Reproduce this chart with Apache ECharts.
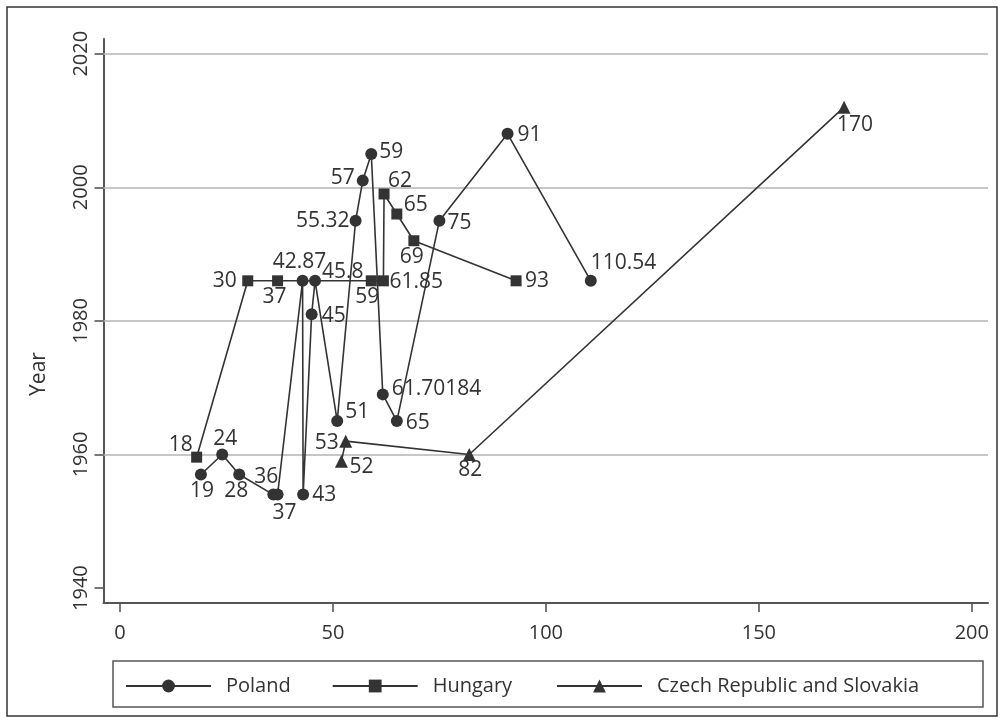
<!DOCTYPE html>
<html>
<head>
<meta charset="utf-8">
<script src="https://cdn.jsdelivr.net/npm/echarts@6/dist/echarts.min.js"></script>
<style>
html,body{margin:0;padding:0;background:#fff;}
#chart{width:1004px;height:723px;}
</style>
</head>
<body>
<div id="chart"></div>
<script>
// ---- data ----
const xTicks = [0, 50, 100, 150, 200];
const yTicks = [1940, 1960, 1980, 2000, 2020];
const gridYears = [1960, 1980, 2000, 2020];

const polandX    = [19, 24, 28, 36, 37, 42.87, 43, 45, 45.8, 51, 55.32, 57, 59, 61.70184, 65, 75, 91, 110.54];
const polandYear = [1957, 1960, 1957, 1954, 1954, 1986, 1954, 1981, 1986, 1965, 1995, 2001, 2005, 1969, 1965, 1995, 2008, 1986];

const hungaryX    = [18, 30, 37, 59, 61.85, 62, 65, 69, 93];
const hungaryYear = [1959.6, 1986, 1986, 1986, 1986, 1999, 1996, 1992, 1986];

const czechX    = [52, 53, 82, 170];
const czechYear = [1959, 1962, 1960, 2012];

// ---- label placement (style only): [align, dx, dy] from marker centre ----
const polandLbl = [
  ['center',1,16],['center',3,-15],['center',-3,16],['center',-7,-18],['center',7,18],
  ['center',-3,-19],['left',9,0],['left',10,2],['left',7,-9],['left',8,-9],
  ['right',-6,0],['right',-8,-3],['left',8,-2],['left',9,-5],['left',9,2],
  ['left',8,2],['left',10,1],['left',0,-18]
];
const hungaryLbl = [
  ['right',-4,-12],['right',-11,0],['center',-3,16],['center',-4,16],['left',6,1],
  ['left',4,-13],['left',7,-9],['center',-2,16],['left',9,0]
];
const czechLbl = [['left',8,6],['right',-7,2],['center',1,16],['left',-7,18]];

const TXT = '#333333';
const INK = '#333333';
const FONT = 'Open Sans';

function build(xs, ys, lbl) {
  return xs.map((x, i) => ({
    value: [x, ys[i]],
    label: { align: lbl[i][0], offset: [lbl[i][1], lbl[i][2]] }
  }));
}

function mkSeries(name, xs, ys, lbl, symbol, size, extra) {
  return Object.assign({
    name: name,
    type: 'line',
    data: build(xs, ys, lbl),
    symbol: symbol,
    symbolSize: size,
    showAllSymbol: true,
    lineStyle: { color: INK, width: 1.6 },
    itemStyle: { color: INK },
    label: {
      show: true,
      position: 'inside',
      verticalAlign: 'middle',
      fontFamily: FONT,
      fontSize: 21,
      color: TXT,
      formatter: p => String(p.value[0])
    },
    emphasis: { disabled: true },
    z: 3
  }, extra || {});
}

const chart = echarts.init(document.getElementById('chart'), null, { renderer: 'canvas' });

const option = {
  animation: false,
  backgroundColor: '#ffffff',
  grid: { left: 103.5, right: 16, top: 39, bottom: 120, containLabel: false, outerBoundsMode: 'none' },
  xAxis: {
    type: 'value',
    min: -3.87,
    max: 203.8,
    axisLine: { show: true, onZero: false, lineStyle: { color: '#555', width: 2 } },
    axisTick: { show: true, length: 9, lineStyle: { color: '#555', width: 1.6 }, customValues: xTicks },
    axisLabel: { fontFamily: FONT, fontSize: 20, color: TXT, margin: 20, customValues: xTicks, formatter: v => String(v) },
    splitLine: { show: false }
  },
  yAxis: {
    type: 'value',
    min: 1937.77,
    max: 2022.2,
    name: 'Year',
    nameLocation: 'middle',
    nameRotate: 90,
    nameGap: 54,
    nameTextStyle: { fontFamily: FONT, fontSize: 21, color: TXT, padding: [0, 106, 0, 0] },
    axisLine: { show: true, onZero: false, lineStyle: { color: '#555', width: 2 } },
    axisTick: { show: true, length: 9, lineStyle: { color: '#555', width: 1.6 }, customValues: yTicks },
    axisLabel: { fontFamily: FONT, fontSize: 20, color: TXT, rotate: 90, margin: 12, customValues: yTicks, formatter: v => String(v) },
    splitLine: { show: false }
  },
  legend: [
    { data: ['Poland'], left: 125, top: 676 },
    { data: ['Hungary'], left: 331.7, top: 676 },
    { data: ['Czech Republic and Slovakia'], left: 556, top: 676 }
  ].map(l => Object.assign(l, {
    orient: 'horizontal',
    padding: 0,
    itemWidth: 85,
    itemHeight: 16,
    selectedMode: false,
    textStyle: { fontFamily: FONT, fontSize: 20, color: TXT, padding: [0, 0, 0, 10] }
  })),
  series: [
    mkSeries('Poland', polandX, polandYear, polandLbl, 'circle', 12, {
      markLine: {
        silent: true,
        symbol: ['none', 'none'],
        z: 1,
        label: { show: false },
        lineStyle: { type: 'solid', color: '#b4b4b4', width: 1.6 },
        emphasis: { disabled: true },
        data: gridYears.map(y => ({ yAxis: y }))
      }
    }),
    mkSeries('Hungary', hungaryX, hungaryYear, hungaryLbl, 'rect', 11),
    mkSeries('Czech Republic and Slovakia', czechX, czechYear, czechLbl, 'triangle', 13)
  ],
  graphic: [
    { type: 'rect', shape: { x: 7, y: 7, width: 990, height: 709 }, style: { fill: 'none', stroke: '#333', lineWidth: 1.5 }, silent: true, z: 0 },
    { type: 'rect', shape: { x: 113, y: 661, width: 870, height: 46 }, style: { fill: 'none', stroke: '#555', lineWidth: 1.5 }, silent: true, z: 0 }
  ]
};

chart.setOption(option);
</script>
</body>
</html>
